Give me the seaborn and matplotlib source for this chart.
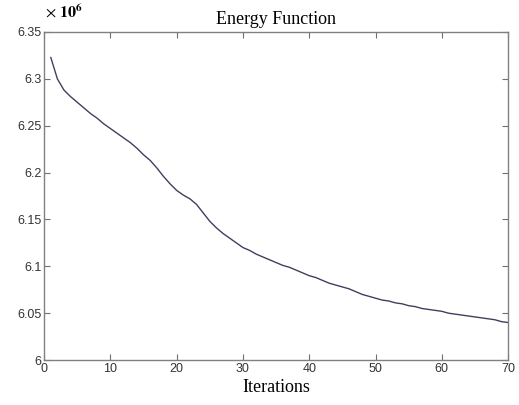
"""Energy function over iterations, MATLAB-style look redone with seaborn."""
import numpy as np
import pandas as pd
import matplotlib
matplotlib.use("Agg")
import matplotlib.pyplot as plt
import seaborn as sns

# energy values, in units of 1e6
ITERATIONS = list(range(1, 71))
ENERGY = [
    6.323, 6.300, 6.288, 6.281, 6.275, 6.269, 6.263, 6.258, 6.252, 6.247,
    6.242, 6.237, 6.232, 6.226, 6.219, 6.213, 6.205, 6.196, 6.188, 6.181,
    6.176, 6.172, 6.166, 6.157, 6.148, 6.141, 6.135, 6.130, 6.125, 6.120,
    6.117, 6.113, 6.110, 6.107, 6.104, 6.101, 6.099, 6.096, 6.093, 6.090,
    6.088, 6.085, 6.082, 6.080, 6.078, 6.076, 6.073, 6.070, 6.068, 6.066,
    6.064, 6.063, 6.061, 6.060, 6.058, 6.057, 6.055, 6.054, 6.053, 6.052,
    6.050, 6.049, 6.048, 6.047, 6.046, 6.045, 6.044, 6.043, 6.041, 6.040,
]
X_TICKS = [0, 10, 20, 30, 40, 50, 60, 70]
Y_TICKS = [6.0, 6.05, 6.1, 6.15, 6.2, 6.25, 6.3, 6.35]
Y_TICK_LABELS = ["6", "6.05", "6.1", "6.15", "6.2", "6.25", "6.3", "6.35"]

SERIF = "Liberation Serif"
SANS = "Liberation Sans"


def main():
    sns.set_style("ticks")
    plt.rcParams["mathtext.fontset"] = "stix"
    df = pd.DataFrame({"Iterations": ITERATIONS, "Energy": ENERGY})

    fig = plt.figure(figsize=(5.19, 4.05), dpi=100)
    ax = fig.add_axes([0.085, 0.111, 0.894, 0.810])

    sns.lineplot(data=df, x="Iterations", y="Energy", ax=ax,
                 color="#40405e", linewidth=1.0)

    ax.set_xlim(0, 70)
    ax.set_ylim(6.0, 6.35)
    ax.set_xticks(X_TICKS)
    ax.set_yticks(Y_TICKS)
    ax.set_yticklabels(Y_TICK_LABELS)
    ax.tick_params(direction="in", top=True, right=True, length=4,
                   width=0.8, color="#707070", labelcolor="#333333",
                   labelsize=9, pad=2)
    for lab in ax.get_xticklabels() + ax.get_yticklabels():
        lab.set_fontfamily(SANS)
    for sp in ax.spines.values():
        sp.set_visible(True)
        sp.set_color("#808080")
        sp.set_linewidth(1.0)

    ax.set_title("Energy Function", fontfamily=SERIF, fontsize=13,
                 pad=6, color="black")
    ax.set_xlabel("Iterations", fontfamily=SERIF, fontsize=13,
                  labelpad=3, color="black")
    ax.set_ylabel("")
    fig.text(0.086, 0.948, r"$\times\ \mathbf{10^{6}}$", fontsize=11.5,
             ha="left", va="bottom", color="black")

    fig.savefig("out.png", dpi=100)
    plt.close(fig)


if __name__ == "__main__":
    main()
